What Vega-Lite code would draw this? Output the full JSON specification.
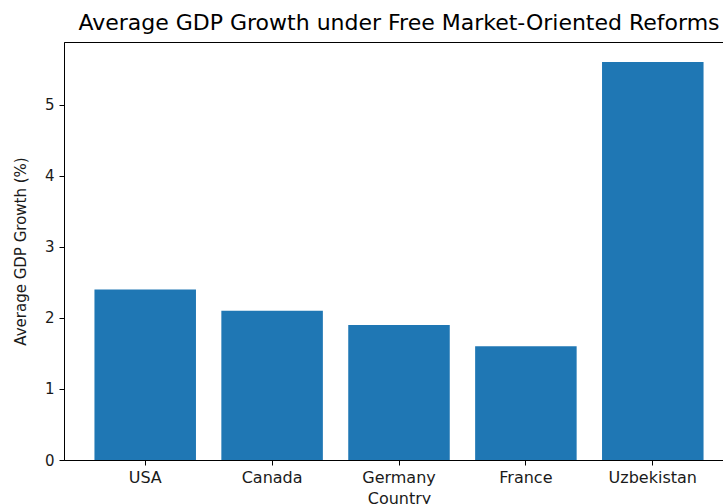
{
  "$schema": "https://vega.github.io/schema/vega-lite/v6.json",
  "autosize": {"type": "none"},
  "padding": {"left": 64, "top": 42, "right": 0, "bottom": 44},
  "width": 670,
  "height": 418,
  "background": "white",
  "title": {
    "text": "Average GDP Growth under Free Market-Oriented Reforms",
    "font": "DejaVu Sans",
    "fontSize": 22,
    "fontWeight": "normal",
    "color": "#000000",
    "anchor": "middle",
    "offset": 7
  },
  "data": {
    "values": [
      {"Country": "USA", "Growth": 2.4},
      {"Country": "Canada", "Growth": 2.1},
      {"Country": "Germany", "Growth": 1.9},
      {"Country": "France", "Growth": 1.6},
      {"Country": "Uzbekistan", "Growth": 5.6}
    ]
  },
  "mark": {"type": "bar", "color": "#1f77b4"},
  "encoding": {
    "x": {
      "field": "Country",
      "type": "nominal",
      "sort": null,
      "scale": {"paddingInner": 0.2, "paddingOuter": 0.24},
      "axis": {
        "title": "Country",
        "labelAngle": 0,
        "labelFont": "DejaVu Sans",
        "labelFontSize": 16,
        "labelColor": "#1a1a1a",
        "labelPadding": 4,
        "titleFont": "DejaVu Sans",
        "titleFontSize": 16,
        "titleFontWeight": "normal",
        "titleColor": "#1a1a1a",
        "titlePadding": 5,
        "domainColor": "#000000",
        "tickColor": "#000000",
        "tickSize": 5,
        "grid": false
      }
    },
    "y": {
      "field": "Growth",
      "type": "quantitative",
      "scale": {"domain": [0, 5.88], "nice": false, "zero": true},
      "axis": {
        "title": "Average GDP Growth (%)",
        "values": [0, 1, 2, 3, 4, 5],
        "labelFont": "DejaVu Sans",
        "labelFontSize": 15,
        "labelColor": "#1a1a1a",
        "labelPadding": 5,
        "titleFont": "DejaVu Sans",
        "titleFontSize": 15,
        "titleFontWeight": "normal",
        "titleColor": "#1a1a1a",
        "titlePadding": 16,
        "domainColor": "#000000",
        "tickColor": "#000000",
        "tickSize": 5,
        "grid": false
      }
    }
  },
  "config": {
    "view": {"stroke": "#000000", "strokeWidth": 1}
  }
}
